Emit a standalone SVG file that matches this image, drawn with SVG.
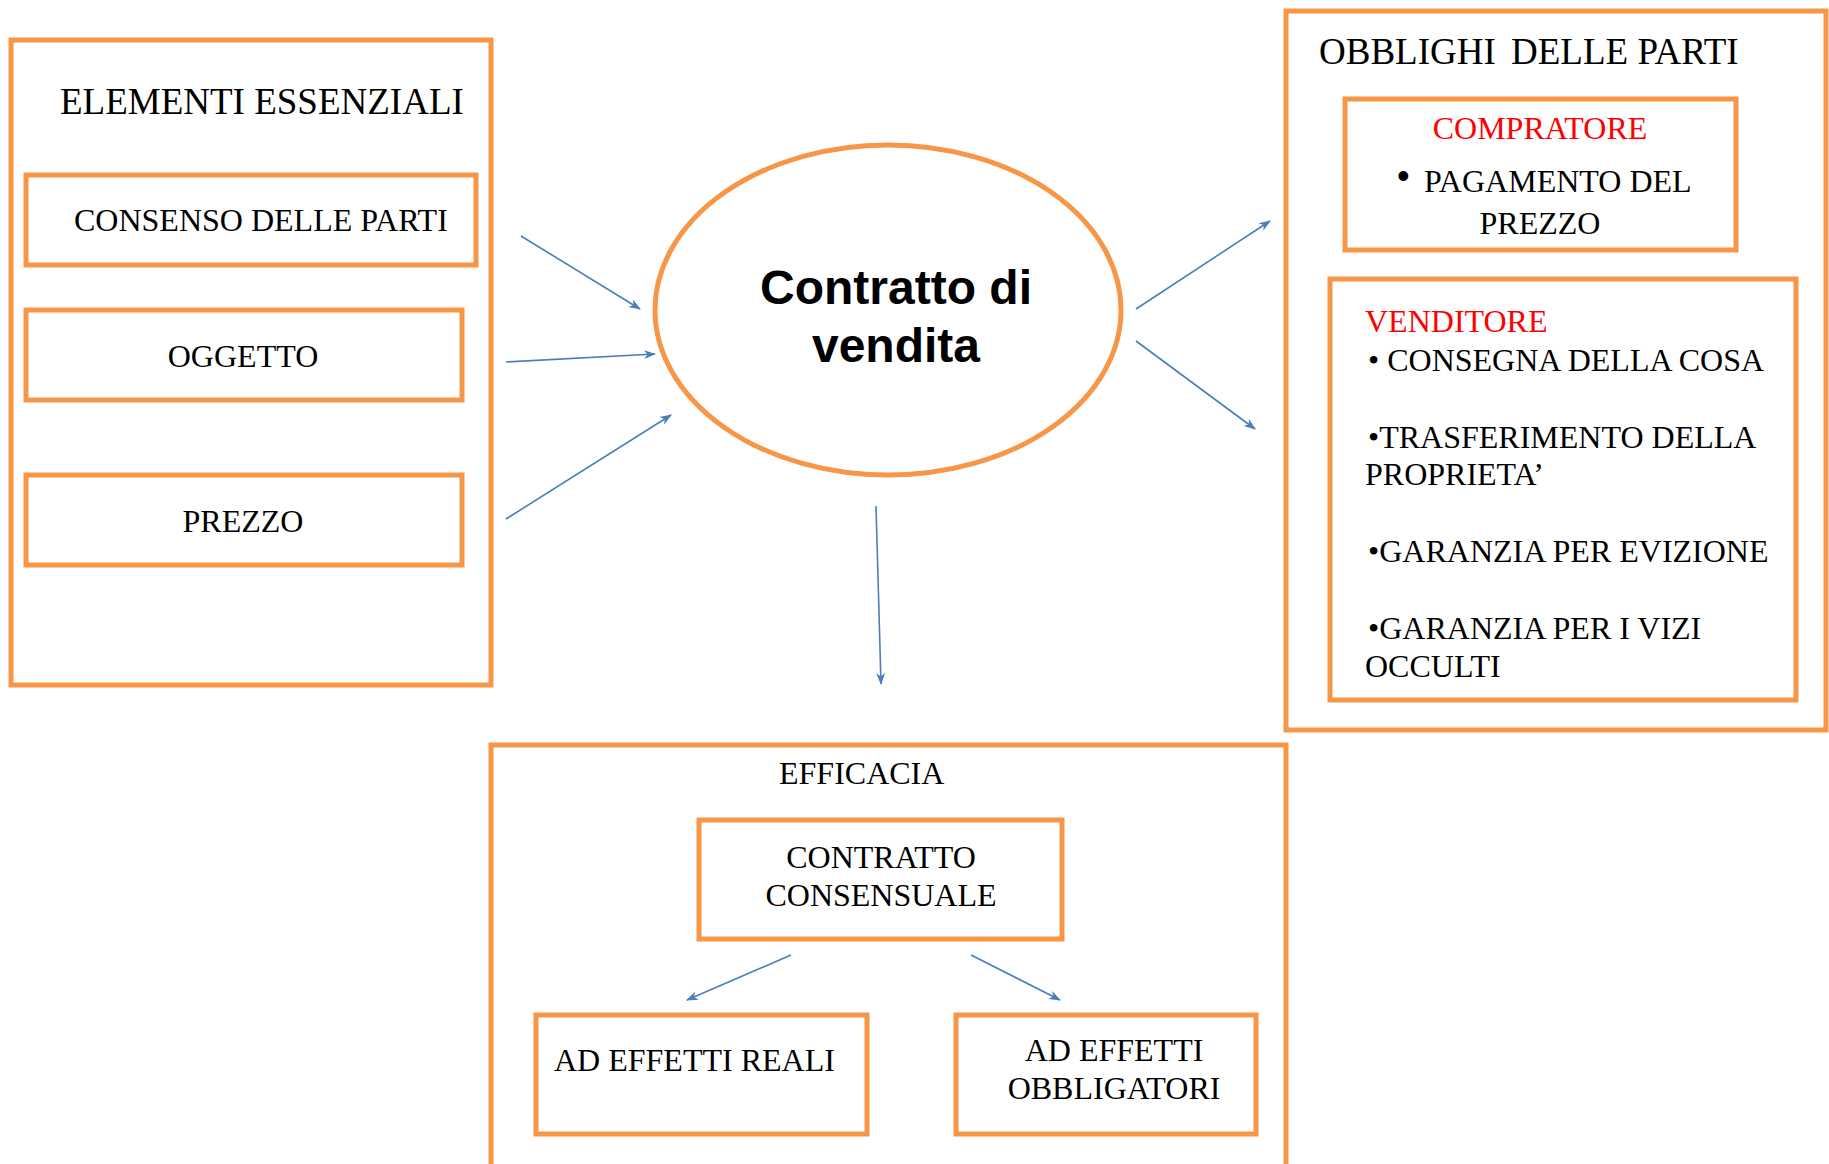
<svg xmlns="http://www.w3.org/2000/svg" width="1829" height="1164" viewBox="0 0 1829 1164">
<defs>
<style>
.box{fill:none;stroke:#F79646;stroke-width:5}
.t{font-family:"Liberation Serif","Times New Roman",serif;font-size:32px;fill:#000}
.h{font-size:37px}
.red{fill:#FF0000}
.c{text-anchor:middle}
.conn{stroke:#4A7EBB;stroke-width:1.6;fill:none;marker-end:url(#ah)}
.big{font-family:"Liberation Sans",Arial,sans-serif;font-weight:bold;font-size:48px;text-anchor:middle;fill:#000}
</style>
<marker id="ah" viewBox="0 0 12 10" refX="11" refY="5" markerWidth="12" markerHeight="10" markerUnits="userSpaceOnUse" orient="auto">
<path d="M0,0.5 L12,5 L0,9.5 L3.5,5 Z" fill="#4A7EBB"/>
</marker>
</defs>
<rect width="1829" height="1164" fill="#fff"/>

<g id="elementi">
<rect class="box" x="11" y="40" width="480" height="645"/>
<text class="t h" x="60" y="114">ELEMENTI ESSENZIALI</text>
</g>
<g id="consenso">
<rect class="box" x="26" y="175" width="450" height="90"/>
<text class="t" x="74" y="231">CONSENSO DELLE PARTI</text>
</g>
<g id="oggetto">
<rect class="box" x="26" y="310" width="436" height="90"/>
<text class="t c" x="243" y="367">OGGETTO</text>
</g>
<g id="prezzo">
<rect class="box" x="26" y="475" width="436" height="90"/>
<text class="t c" x="243" y="532">PREZZO</text>
</g>

<g id="contratto">
<ellipse cx="888" cy="310" rx="233" ry="165" fill="none" stroke="#F79646" stroke-width="5"/>
<text class="big" x="896" y="304">Contratto di</text>
<text class="big" x="896" y="362">vendita</text>
</g>

<g id="obblighi">
<rect class="box" x="1286" y="11" width="540" height="719"/>
<text class="t h" x="1319" y="64">OBBLIGHI<tspan dx="6"> DELLE PARTI</tspan></text>
</g>
<g id="compratore">
<rect class="box" x="1345" y="99" width="391" height="151"/>
<text class="t red c" x="1540" y="139">COMPRATORE</text>
<text class="t" x="1397" y="188" style="font-family:'Liberation Sans',Arial,sans-serif;font-size:36px">•</text>
<text class="t" x="1424" y="192">PAGAMENTO DEL</text>
<text class="t c" x="1540" y="234">PREZZO</text>
</g>
<g id="venditore">
<rect class="box" x="1330" y="279" width="466" height="421"/>
<text class="t red" x="1365" y="332">VENDITORE</text>
<text class="t" x="1368" y="371">• CONSEGNA DELLA COSA</text>
<text class="t" x="1368" y="448">•TRASFERIMENTO DELLA</text>
<text class="t" x="1365" y="485">PROPRIETA’</text>
<text class="t" x="1368" y="562">•GARANZIA PER EVIZIONE</text>
<text class="t" x="1368" y="639">•GARANZIA PER I VIZI</text>
<text class="t" x="1365" y="677">OCCULTI</text>
</g>

<g id="efficacia">
<rect class="box" x="491" y="745" width="795" height="425"/>
<text class="t" x="779" y="784">EFFICACIA</text>
</g>
<g id="consensuale">
<rect class="box" x="699" y="820" width="363" height="119"/>
<text class="t c" x="881" y="868">CONTRATTO</text>
<text class="t c" x="881" y="906">CONSENSUALE</text>
</g>
<g id="reali">
<rect class="box" x="536" y="1015" width="331" height="119"/>
<text class="t" x="554" y="1071">AD EFFETTI REALI</text>
</g>
<g id="obbligatori">
<rect class="box" x="956" y="1015" width="300" height="119"/>
<text class="t c" x="1114" y="1061">AD EFFETTI</text>
<text class="t c" x="1114" y="1099">OBBLIGATORI</text>
</g>

<g id="connectors">
<line class="conn" x1="521" y1="236" x2="640" y2="309"/>
<line class="conn" x1="506" y1="362" x2="655" y2="354"/>
<line class="conn" x1="506" y1="519" x2="671" y2="415"/>
<line class="conn" x1="1136" y1="309" x2="1270" y2="221"/>
<line class="conn" x1="1136" y1="341" x2="1255" y2="429"/>
<line class="conn" x1="876" y1="506" x2="881" y2="684"/>
<line class="conn" x1="791" y1="955" x2="687" y2="1000"/>
<line class="conn" x1="971" y1="955" x2="1060" y2="1000"/>
</g>
</svg>
